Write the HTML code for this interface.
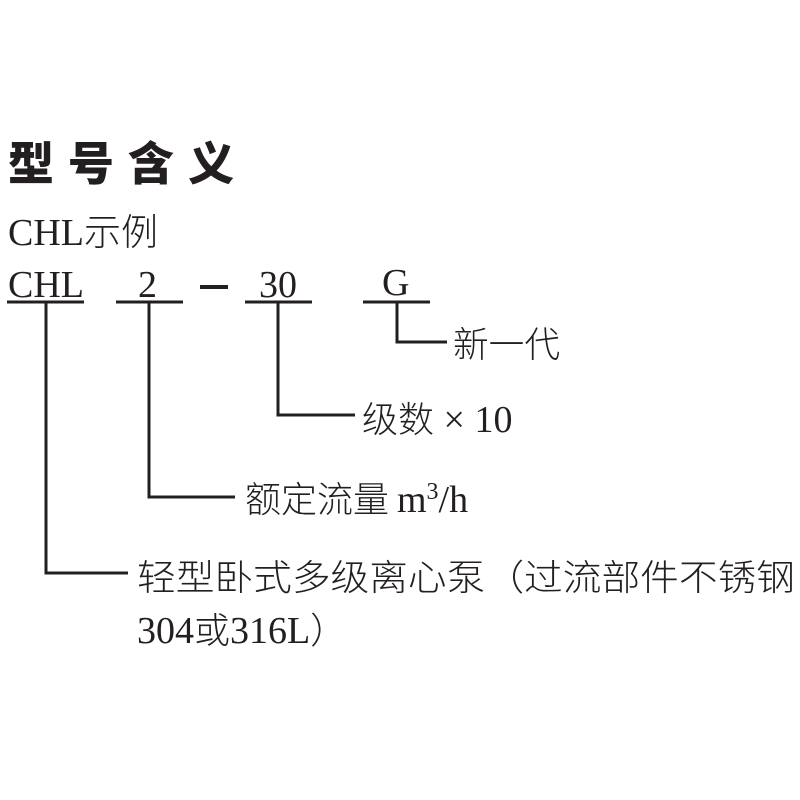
<!DOCTYPE html>
<html><head><meta charset="utf-8"><style>
html,body{margin:0;padding:0;background:#fff;width:800px;height:800px;overflow:hidden}
svg text{fill:#231f20}
.c{font-family:"Liberation Serif","Noto Sans CJK SC",serif;}
</style></head><body>
<svg width="800" height="800" viewBox="0 0 800 800" xmlns="http://www.w3.org/2000/svg">
<text x="8" y="180" font-family="Noto Sans CJK SC, sans-serif" font-weight="900" font-size="46" letter-spacing="14">型号含义</text>
<text class="c" x="8" y="245" font-size="38">CHL<tspan font-family="Noto Sans CJK SC, sans-serif" font-size="37" font-weight="300">示例</tspan></text>
<text class="c" x="8" y="297" font-size="38">CHL</text>
<text class="c" x="138" y="297" font-size="38">2</text>
<text class="c" x="259" y="297" font-size="38">30</text>
<text class="c" x="382" y="295" font-size="38">G</text>
<g stroke="#231f20" stroke-width="3" fill="none">
<line x1="7" y1="302" x2="84" y2="302"/>
<line x1="116" y1="302" x2="183" y2="302"/>
<line x1="245" y1="302" x2="312" y2="302"/>
<line x1="363" y1="302" x2="430" y2="302"/>
<line x1="200" y1="287" x2="228" y2="287" stroke-width="4"/>
<polyline points="46,302 46,573 128,573"/>
<polyline points="149,302 149,497 235,497"/>
<polyline points="278,302 278,415 355,415"/>
<polyline points="397,302 397,342 447,342"/>
</g>
<g font-family="Noto Sans CJK SC, sans-serif" font-weight="300" font-size="36">
<text x="453" y="357" textLength="107" lengthAdjust="spacingAndGlyphs">新一代</text>
<text x="362" y="432">级数<tspan font-family="Liberation Serif, serif" font-size="38"> × 10</tspan></text>
<text x="245" y="512">额定流量 <tspan font-family="Liberation Serif, serif" font-size="38">m<tspan font-size="24" dy="-13">3</tspan><tspan dy="13">/h</tspan></tspan></text>
<text x="137" y="590" textLength="658" lengthAdjust="spacingAndGlyphs">轻型卧式多级离心泵（过流部件不锈钢</text>
<text x="137" y="643"><tspan font-family="Liberation Serif, serif" font-size="38">304</tspan>或<tspan font-family="Liberation Serif, serif" font-size="38">316L</tspan>）</text>
</g>
</svg>
</body></html>
